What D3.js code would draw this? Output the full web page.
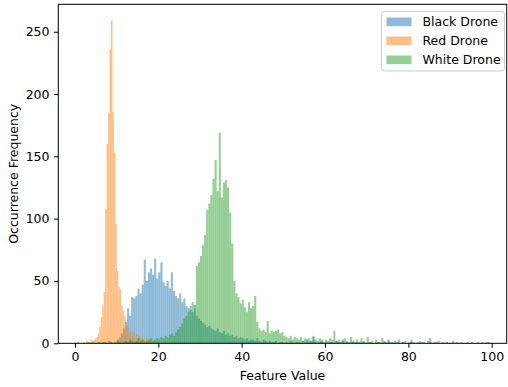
<!DOCTYPE html>
<html lang='en'>
<head>
   <meta charset='UTF-8'>
   <script src="https://cdnjs.cloudflare.com/ajax/libs/d3/7.8.5/d3.min.js"></script>
   <style>
      body { margin: 0; background: white; }
      svg { display: block; font-family: 'DejaVu Sans', sans-serif; }
   </style>
   <title>Drone histogram</title>
</head>
<body>
   <svg id='chart'></svg>
   <script>
      'use strict'

      const seriesNames = ['Black Drone', 'Red Drone', 'White Drone']
      const seriesColors = ['#1f77b4', '#ff7f0e', '#2ca02c']

      // bin start and bin width (feature units) for each series
      const binStarts = [10, 2, 0]
      const binWidths = [0.5, 0.35, 0.5]

      const blackCounts = [
         3, 5, 8, 12, 17, 28, 22, 37, 36, 38, 44, 40, 47, 67, 50, 57, 60, 55, 68, 52,
         57, 65, 49, 46, 50, 44, 57, 42, 38, 36, 40, 33, 36, 30, 28, 27, 25, 31,
         22, 20, 18, 16, 15, 13, 14, 12, 11, 10, 12, 9, 8, 10, 7, 8, 6, 7, 5, 6, 4, 5, 4,
         3, 4, 2, 3, 3, 2, 4, 2, 1, 3, 2, 1, 2, 1, 1, 2, 0, 1, 1, 0,
         1, 0, 2, 1, 0, 1, 1, 0, 2, 1, 3, 1, 2, 6,
         1, 0, 1, 2, 0, 1, 0, 1, 1, 0, 2, 1, 0, 3,
         0, 1, 0, 0, 1, 0, 1, 0, 0, 1, 0, 0, 1, 0, 0, 0, 1, 0, 0, 1,
         0, 3, 0, 1, 0, 0, 0, 0, 1, 0, 0, 0, 1, 0, 0, 0, 0, 1, 0, 0, 0,
         4, 0, 0, 1, 0, 0, 0, 0, 1, 0
      ]

      const redCounts = [
         1, 0, 2, 1, 1, 3, 2, 3, 4, 5, 8, 13,
         21, 30, 41, 108, 160, 185, 236, 259, 185, 153, 96, 58, 45, 43, 30, 26, 22, 14, 12,
         8, 10, 6, 9, 5, 7, 4, 6, 3, 5, 3,
         2, 4, 1, 3, 2, 1, 2, 0, 1, 1, 0, 1
      ]

      const whiteCounts = [
         0, 1, 0, 0, 0, 0,
         1, 0, 1, 0, 0, 1, 0, 1, 1, 0, 2, 1, 0, 1, 2, 1, 0, 1,
         2, 1, 3, 2, 1, 2, 4, 2, 3, 1, 2, 3, 4, 2, 3, 4,
         3, 5, 4, 6, 5, 7, 8, 6, 9, 11, 13,
         16, 20, 22, 25, 30, 33, 28, 62, 65, 70, 79, 87, 107, 112, 119, 132, 147, 122, 169, 117,
         129, 131, 125, 105, 80, 50, 40, 37, 32, 35, 29, 25, 33, 28, 30, 38, 17, 12, 10, 11,
         9, 18, 8, 10, 9, 10, 11, 8, 9, 6, 5, 4, 6, 3, 5, 4, 3, 5, 2, 4,
         3, 4, 2, 5, 3, 2, 4, 3, 1, 3, 2, 4, 3, 10, 2, 3, 1, 2, 4, 2,
         1, 5, 2, 1, 3, 1, 4, 2, 1, 5, 1, 2, 0, 3, 1, 1, 4, 2, 1, 2,
         1, 0, 2, 1, 3, 0, 1, 2, 0, 1, 3, 1, 0, 1, 2, 0, 1, 0, 2, 1,
         0, 1, 0, 2, 0, 1, 0, 1, 0, 0, 2, 0, 1, 0, 1, 0, 0, 1, 0, 1,
         0, 0, 1, 0, 1, 0, 1, 1
      ]

      const xTicks = [0, 20, 40, 60, 80, 100]
      const yTicks = [0, 50, 100, 150, 200, 250]

      const allCounts = [blackCounts, redCounts, whiteCounts]

      const W = 508, H = 387
      const plotLeft = 58.3, plotRight = 506.7, plotTop = 4.3, plotBottom = 343.3

      const svg = d3.select('#chart').attr('width', W).attr('height', H)

      const x = d3.scaleLinear([-4.0, 103.6], [plotLeft, plotRight])
      const y = d3.scaleLinear([0, 272], [plotBottom, plotTop])

      // bars: blue, then orange, then green on top
      allCounts.forEach((counts, s) => {
         const bins = counts.map((c, i) => ({
            x0: binStarts[s] + i * binWidths[s],
            x1: binStarts[s] + (i + 1) * binWidths[s],
            c
         })).filter(d => d.c > 0)

         svg.append('g')
            .attr('fill', seriesColors[s])
            .attr('fill-opacity', 0.5)
            .selectAll('rect')
            .data(bins)
            .join('rect')
            .attr('x', d => x(d.x0))
            .attr('width', d => x(d.x1) - x(d.x0))
            .attr('y', d => y(d.c))
            .attr('height', d => y(0) - y(d.c))
      })

      const fontSize = 12.5

      const xAxis = svg.append('g')
         .attr('transform', `translate(0,${plotBottom})`)
         .call(d3.axisBottom(x).tickValues(xTicks).tickSize(4.4).tickPadding(4.6))
      const yAxis = svg.append('g')
         .attr('transform', `translate(${plotLeft},0)`)
         .call(d3.axisLeft(y).tickValues(yTicks).tickSize(4.4).tickPadding(4.4))

      for (const ax of [xAxis, yAxis]) {
         ax.select('.domain').remove()
         ax.selectAll('line').attr('stroke', '#000').attr('stroke-width', 1)
         ax.selectAll('text')
            .attr('fill', '#000')
            .style('font-size', fontSize + 'px')
            .style('font-family', 'DejaVu Sans')
      }

      // frame
      svg.append('rect')
         .attr('x', plotLeft).attr('y', plotTop)
         .attr('width', plotRight - plotLeft).attr('height', plotBottom - plotTop)
         .attr('fill', 'none').attr('stroke', '#000').attr('stroke-width', 1)

      svg.append('text')
         .attr('x', (plotLeft + plotRight) / 2).attr('y', 380)
         .attr('text-anchor', 'middle')
         .style('font-size', fontSize + 'px')
         .text('Feature Value')

      svg.append('text')
         .attr('transform', `translate(17.5,${(plotTop + plotBottom) / 2}) rotate(-90)`)
         .attr('text-anchor', 'middle')
         .style('font-size', fontSize + 'px')
         .text('Occurrence Frequency')

      // legend
      const legend = svg.append('g').attr('transform', 'translate(381.5,11.5)')
      legend.append('rect')
         .attr('width', 123).attr('height', 59.5)
         .attr('rx', 2.5)
         .attr('fill', 'white').attr('fill-opacity', 0.8)
         .attr('stroke', '#cccccc').attr('stroke-width', 1)

      seriesNames.forEach((name, i) => {
         const row = legend.append('g').attr('transform', `translate(0,${6 + i * 19})`)
         row.append('rect')
            .attr('x', 5).attr('width', 25).attr('height', 8.7)
            .attr('fill', seriesColors[i]).attr('fill-opacity', 0.5)
         row.append('text')
            .attr('x', 41).attr('y', 8.8)
            .style('font-size', fontSize + 'px')
            .text(name)
      })
   </script>
</body>
</html>
